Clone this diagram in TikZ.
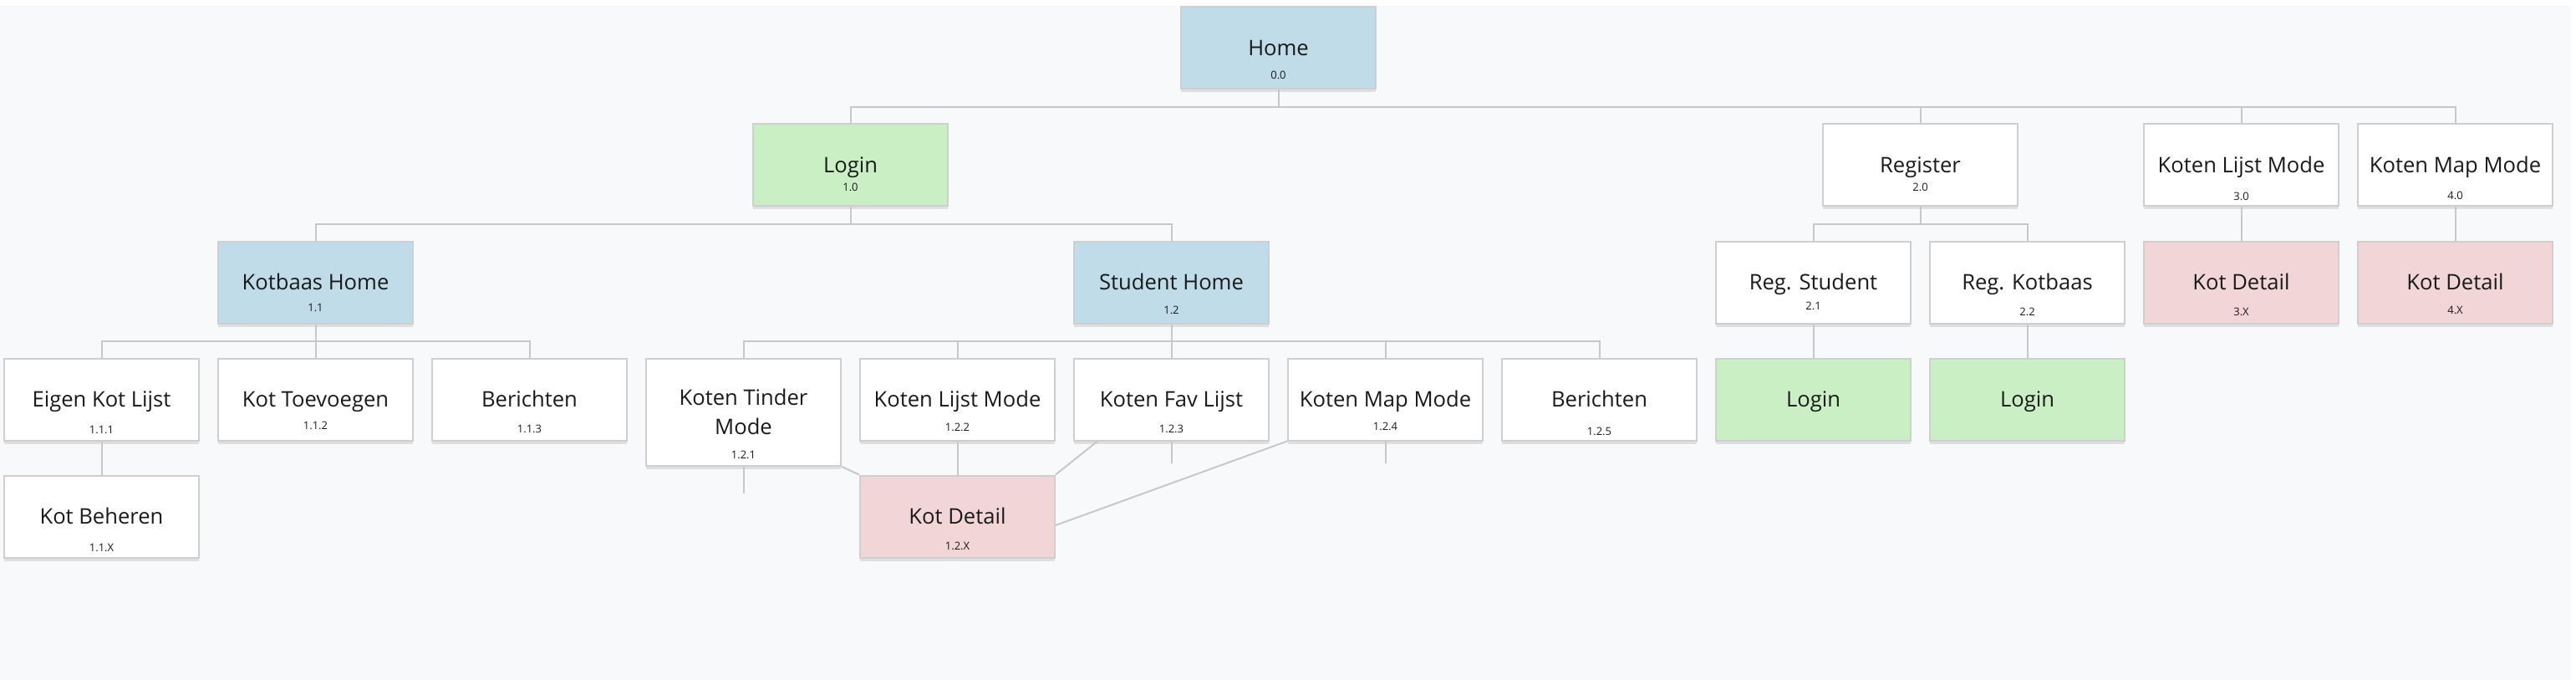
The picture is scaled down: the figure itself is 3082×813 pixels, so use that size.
\documentclass[tikz,border=0pt]{standalone}
\usepackage{fontspec}
\setmainfont{Open Sans}
\usetikzlibrary{shadows}
\definecolor{bgc}{HTML}{F8F9FB}
\definecolor{bluec}{HTML}{BFDCE8}
\definecolor{greenc}{HTML}{CBEFC5}
\definecolor{pinkc}{HTML}{F1D5D7}
\definecolor{edgec}{HTML}{CFCFCF}
\definecolor{linec}{HTML}{C8C8C8}
\definecolor{txtc}{HTML}{1A1A1A}
\tikzset{
  box/.style={draw=edgec, line width=2pt, fill=white, minimum width=233pt, minimum height=98pt, inner sep=0pt,
    drop shadow={shadow xshift=0pt, shadow yshift=-4pt, opacity=0.10, fill=black}},
  tallbox/.style={box, minimum height=128pt},
  ttl/.style={text=txtc, font=\fontsize{25.6}{35}\selectfont, inner sep=0pt, text height=18.2pt, text depth=0pt},
  ttltwo/.style={text=txtc, font=\fontsize{25.6}{35}\selectfont, inner sep=0pt, align=center},
  num/.style={text=txtc, font=\fontsize{13}{15}\selectfont, inner sep=0pt, text height=9.3pt, text depth=0pt},
  conn/.style={draw=linec, line width=2pt},
}
\newcommand\bx[7]{%
  \node[box,#4] (#1) at (#2,#3) {};
  \node[ttl] (#1-t) at (#1.center) {#5};
  \node[num] (#1-n) at ([yshift=-#7pt]#1.center) {#6};
}
\newcommand\bxl[5]{%
  \node[box,#4] (#1) at (#2,#3) {};
  \node[ttl] (#1-t) at (#1.center) {#5};
}
\begin{document}
\begin{tikzpicture}[x=1pt,y=-1pt]
\useasboundingbox (0,0) rectangle (3082,813);
\fill[bgc] (0,7) rectangle (3076,813);

% row 0
\bx{home}{1529.5}{57}{fill=bluec}{Home}{0.0}{33}
% row 1
\bx{login}{1017.5}{197.5}{fill=greenc}{Login}{1.0}{26}
\bx{reg}{2297.5}{197.5}{}{Register}{2.0}{26}
\bx{lm}{2681.5}{197.5}{}{Koten Lijst Mode}{3.0}{37}
\bx{mm}{2937.5}{197.5}{}{Koten Map Mode}{4.0}{36}
% row 2
\bx{kh}{377.5}{337.5}{fill=bluec}{Kotbaas Home}{1.1}{30}
\bx{sh}{1401.5}{337.5}{fill=bluec}{Student Home}{1.2}{33}
\bx{rs}{2169.5}{337.5}{}{Reg. Student}{2.1}{28}
\bx{rk}{2425.5}{337.5}{}{Reg. Kotbaas}{2.2}{35}
\bx{kd3}{2681.5}{337.5}{fill=pinkc}{Kot Detail}{3.X}{35}
\bx{kd4}{2937.5}{337.5}{fill=pinkc}{Kot Detail}{4.X}{33}
% row 3
\bx{ekl}{121.5}{477.5}{}{Eigen Kot Lijst}{1.1.1}{36}
\bx{kt}{377.5}{477.5}{}{Kot Toevoegen}{1.1.2}{31}
\bx{ber1}{633.5}{477.5}{}{Berichten}{1.1.3}{35}
\node[tallbox] (ktm) at (889.5,493) {};
\node[ttltwo] (ktm-t) at ([yshift=1pt]ktm.center) {Koten Tinder\\Mode};
\node[num] (ktm-n) at ([yshift=-51pt]ktm.center) {1.2.1};
\bx{klm}{1145.5}{477.5}{}{Koten Lijst Mode}{1.2.2}{33}
\bx{kfl}{1401.5}{477.5}{}{Koten Fav Lijst}{1.2.3}{35}
\bx{kmm}{1657.5}{477.5}{}{Koten Map Mode}{1.2.4}{32}
\bx{ber2}{1913.5}{477.5}{}{Berichten}{1.2.5}{38}
\bxl{ls}{2169.5}{477.5}{fill=greenc}{Login}
\bxl{lk}{2425.5}{477.5}{fill=greenc}{Login}
% row 4
\bx{kb}{121.5}{617.5}{}{Kot Beheren}{1.1.X}{37.5}
\bx{kd12}{1145.5}{617.5}{fill=pinkc}{Kot Detail}{1.2.X}{35}

% buses
\coordinate (b0) at (0,128);
\coordinate (b1) at (0,268);
\coordinate (b2) at (0,408);

% Home
\draw[conn] (home.south) -- (home.south |- b0);
\draw[conn] (login.north) |- (mm.north |- b0) -- (mm.north);
\draw[conn] (reg.north) -- (reg.north |- b0);
\draw[conn] (lm.north) -- (lm.north |- b0);
% Login
\draw[conn] (login.south) -- (login.south |- b1);
\draw[conn] (kh.north) |- (sh.north |- b1) -- (sh.north);
% Register
\draw[conn] (reg.south) -- (reg.south |- b1);
\draw[conn] (rs.north) |- (rk.north |- b1) -- (rk.north);
% Kotbaas Home
\draw[conn] (kh.south) -- (kh.south |- b2);
\draw[conn] (ekl.north) |- (ber1.north |- b2) -- (ber1.north);
\draw[conn] (kt.north) -- (kt.north |- b2);
% Student Home
\draw[conn] (sh.south) -- (sh.south |- b2);
\draw[conn] (ktm.north) |- (ber2.north |- b2) -- (ber2.north);
\draw[conn] (klm.north) -- (klm.north |- b2);
\draw[conn] (kfl.north) -- (kfl.north |- b2);
\draw[conn] (kmm.north) -- (kmm.north |- b2);
% direct
\draw[conn] (lm.south) -- (kd3.north);
\draw[conn] (mm.south) -- (kd4.north);
\draw[conn] (rs.south) -- (ls.north);
\draw[conn] (rk.south) -- (lk.north);
\draw[conn] (ekl.south) -- (kb.north);
\draw[conn] (klm.south) -- (kd12.north);
% stubs
\coordinate (s1) at ([yshift=-32pt]ktm.south);
\coordinate (s3) at ([yshift=-26pt]kfl.south);
\coordinate (s4) at ([yshift=-26pt]kmm.south);
\draw[conn] (ktm.south) -- (s1);
\draw[conn] (kfl.south) -- (s3);
\draw[conn] (kmm.south) -- (s4);
% diagonals to Kot Detail 1.2.X
\draw[conn] (ktm.south east) -- (kd12.north west);
\draw[conn] ([xshift=29pt]kfl.south west) -- (kd12.north east);
\draw[conn] (kmm.south west) -- ([yshift=-10.5pt]kd12.east);
\end{tikzpicture}
\end{document}
